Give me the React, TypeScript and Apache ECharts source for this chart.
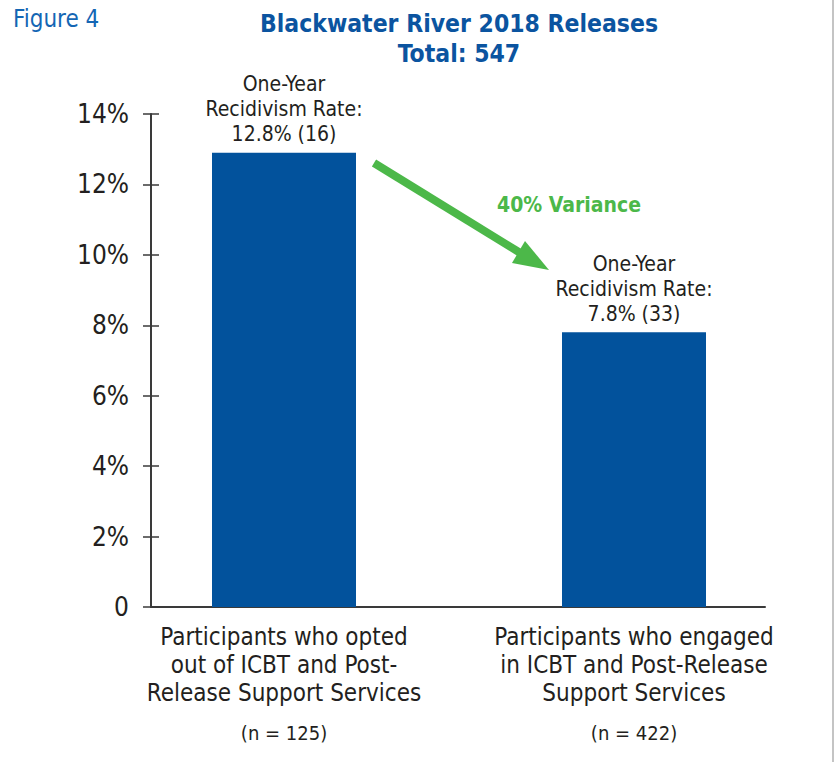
import React, { useEffect, useRef } from "react";
import * as echarts from "echarts";

const categories = [
  "Participants who opted\nout of ICBT and Post-\nRelease Support Services",
  "Participants who engaged\nin ICBT and Post-Release\nSupport Services",
];
const groupSizes = ["(n = 125)", "(n = 422)"];
const rates = [12.9, 7.8];
const rateLabels = [
  "One-Year\nRecidivism Rate:\n12.8% (16)",
  "One-Year\nRecidivism Rate:\n7.8% (33)",
];
const yTicks = [0, 2, 4, 6, 8, 10, 12, 14];

const FONT = '"Liberation Sans Narrow", "DejaVu Sans Condensed", "Noto Sans", sans-serif';
const BLUE = "#02529c";
const GREEN = "#4cb849";
const TXT = "#231f20";

export default function App() {
  const ref = useRef<HTMLDivElement>(null);
  useEffect(() => {
    document.body.style.margin = "0";
    const chart = echarts.init(ref.current!, null, { renderer: "svg" });
    const yMax = yTicks[yTicks.length - 1];
    chart.setOption({
      animation: false,
      backgroundColor: "#ffffff",
      textStyle: { fontFamily: FONT },
      grid: [
        { left: 151, top: 114, width: 614, height: 493 },
        { left: 109, top: 114, width: 700, height: 493 },
      ],
      xAxis: [
        {
          type: "value",
          gridIndex: 0,
          min: 0,
          max: 1,
          axisLine: { show: true, lineStyle: { color: "#3a3a3a", width: 2 } },
          axisTick: { show: false },
          axisLabel: { show: false },
          splitLine: { show: false },
        },
        {
          type: "category",
          gridIndex: 1,
          data: categories.map((c, i) => c + "\n" + groupSizes[i]),
          axisLine: { show: false },
          axisTick: { show: false },
          axisLabel: {
            margin: 16,
            interval: 0,
            formatter: (_v: string, i: number) =>
              categories[i]
                .split("\n")
                .map((l) => "{a|" + l + "}")
                .join("\n") +
              "\n{b|" +
              groupSizes[i] +
              "}",
            rich: {
              a: { fontSize: 24, lineHeight: 28, color: TXT, fontFamily: FONT, align: "center" },
              b: { fontSize: 20, lineHeight: 52, color: TXT, fontFamily: FONT, align: "center" },
            },
          },
        },
      ],
      yAxis: [
        {
          type: "value",
          gridIndex: 0,
          position: "left",
          min: 0,
          max: yMax,
          interval: 2,
          axisLine: { show: true, lineStyle: { color: "#3a3a3a", width: 2 } },
          axisTick: { show: true, length: 8, lineStyle: { color: "#3a3a3a", width: 1.5 } },
          axisLabel: {
            margin: 22,
            fontSize: 26,
            color: TXT,
            fontFamily: FONT,
            formatter: (v: number) => (v === 0 ? "0" : v + "%"),
          },
          splitLine: { show: false },
        },
        {
          type: "value",
          gridIndex: 0,
          position: "left",
          min: 0,
          max: yMax,
          interval: 2,
          axisLine: { show: false },
          axisTick: { show: true, inside: true, length: 8, lineStyle: { color: "#3a3a3a", width: 1.5 } },
          axisLabel: { show: false },
          splitLine: { show: false },
        },
        {
          type: "value",
          gridIndex: 1,
          min: 0,
          max: yMax,
          show: false,
        },
      ],
      series: [
        {
          type: "bar",
          xAxisIndex: 1,
          yAxisIndex: 2,
          data: rates,
          barWidth: 144,
          itemStyle: { color: BLUE },
          label: {
            show: true,
            position: "top",
            distance: 6,
            formatter: (p: any) => rateLabels[p.dataIndex],
            fontSize: 21,
            lineHeight: 25,
            color: TXT,
            fontFamily: FONT,
            align: "center",
          },
        },
      ],
      graphic: [
        {
          type: "text",
          left: 13,
          top: 7,
          style: { text: "Figure 4", fontSize: 24, fill: "#1466b4", fontFamily: FONT },
        },
        {
          type: "text",
          x: 459,
          y: 8,
          style: {
            text: "Blackwater River 2018 Releases\nTotal: 547",
            fontSize: 24.5,
            lineHeight: 30,
            fontWeight: "bold",
            fill: "#0b54a0",
            fontFamily: FONT,
            align: "center",
          },
        },
        {
          type: "line",
          shape: { x1: 374, y1: 163, x2: 522, y2: 254 },
          style: { stroke: GREEN, lineWidth: 8 },
        },
        {
          type: "polygon",
          shape: { points: [[549, 270], [512, 263], [525, 241]] },
          style: { fill: GREEN },
        },
        {
          type: "text",
          x: 569,
          y: 205,
          style: {
            text: "40% Variance",
            fontSize: 21,
            fontWeight: "bold",
            fill: GREEN,
            fontFamily: FONT,
            align: "center",
            verticalAlign: "middle",
          },
        },
        {
          type: "line",
          shape: { x1: 833, y1: 0, x2: 833, y2: 762 },
          style: { stroke: "#c4c4c4", lineWidth: 2 },
        },
      ],
    });
    return () => chart.dispose();
  }, []);
  return <div ref={ref} style={{ width: 835, height: 762 }} />;
}
